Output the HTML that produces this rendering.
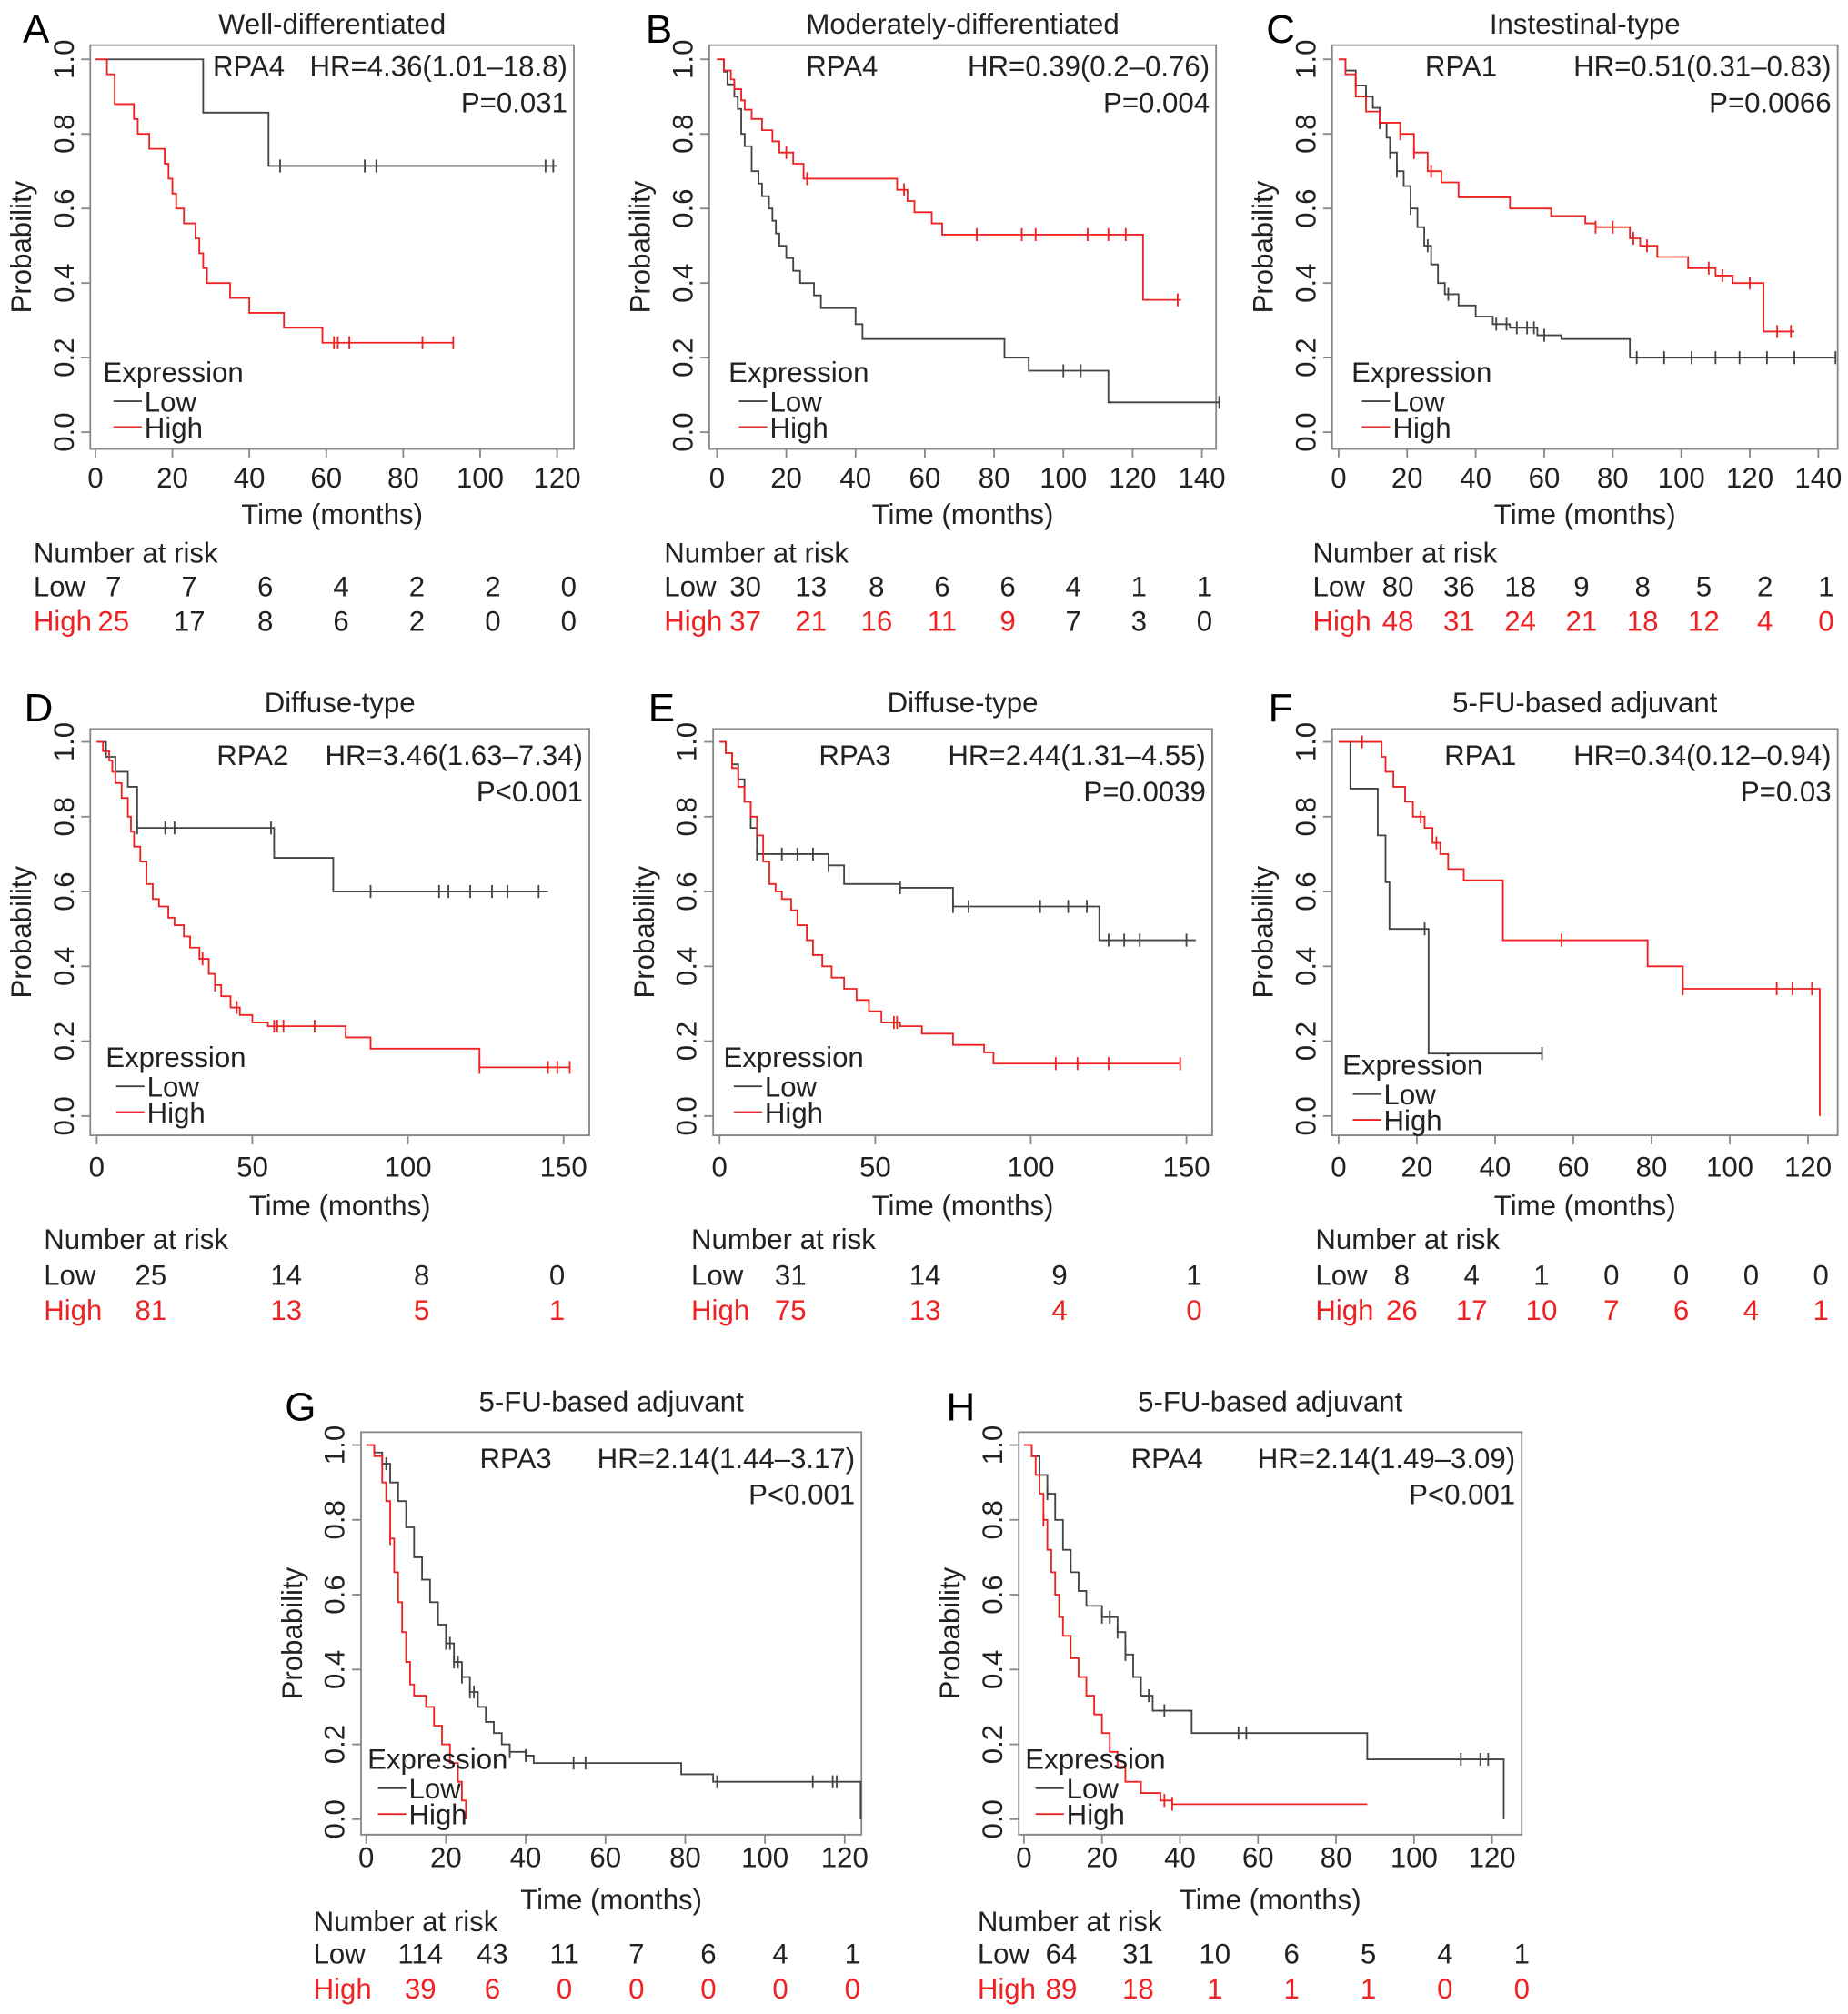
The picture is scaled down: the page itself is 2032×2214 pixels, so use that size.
<!DOCTYPE html>
<html><head><meta charset="utf-8">
<style>
html,body{margin:0;padding:0;background:#fff;}
svg{display:block;font-family:"Liberation Sans",Arial,sans-serif;}
</style></head>
<body>
<svg id="fig" width="2032" height="2214" viewBox="0 0 1433 1561" preserveAspectRatio="none" xmlns="http://www.w3.org/2000/svg"></svg>
<script>
// ---- data (time points of drops, survival after each drop, end time, censor times) ----
const A_lowT=[28,45]; const A_lowS=[0.857,0.714]; const A_lowEnd=120; const A_lowC=[48,70,73,117,119];
const A_highT=[3,5,10,11,14,18,19,20,21,23,26,27,28,29,35,40,49,59]; const A_highS=[0.96,0.88,0.84,0.8,0.76,0.72,0.68,0.64,0.6,0.56,0.52,0.48,0.44,0.4,0.36,0.32,0.28,0.24]; const A_highEnd=93; const A_highC=[62,63,66,85,93];
const B_lowT=[2,3,5,6,7,8,10,12,13,15,16,17,18,20,22,24,28,30,40,42,83,90,113]; const B_lowS=[0.967,0.933,0.9,0.867,0.8,0.767,0.7,0.667,0.633,0.6,0.567,0.533,0.5,0.467,0.433,0.4,0.367,0.333,0.29,0.25,0.2,0.165,0.08]; const B_lowEnd=145; const B_lowC=[100,105,145];
const B_highT=[2,4,5,7,8,10,13,16,18,22,25,52,55,57,62,65,123]; const B_highS=[0.97,0.946,0.92,0.89,0.865,0.84,0.81,0.78,0.75,0.72,0.68,0.65,0.62,0.59,0.56,0.53,0.355]; const B_highEnd=134; const B_highC=[20,26,54,75,88,92,107,113,118,133];
const C_lowT=[2,5,8,10,12,14,15,17,19,21,23,25,27,29,31,35,40,45,50,58,65,85]; const C_lowS=[0.97,0.93,0.9,0.87,0.83,0.79,0.75,0.7,0.66,0.6,0.55,0.5,0.45,0.4,0.37,0.34,0.31,0.29,0.28,0.26,0.25,0.2]; const C_lowEnd=145; const C_lowC=[5,8,12,15,17,21,26,32,46,49,52,55,57,60,87,95,103,110,117,125,133,145];
const C_highT=[2,5,8,12,18,22,26,30,35,50,62,72,75,85,88,93,102,110,115,124]; const C_highS=[0.96,0.9,0.86,0.83,0.8,0.75,0.7,0.67,0.63,0.6,0.58,0.56,0.55,0.52,0.5,0.47,0.44,0.42,0.4,0.27]; const C_highEnd=133; const C_highC=[18,22,27,75,80,86,90,108,112,120,128,132];
const D_lowT=[3,6,10,13,57,76]; const D_lowS=[0.96,0.92,0.88,0.77,0.69,0.6]; const D_lowEnd=145; const D_lowC=[13,22,25,56,88,110,113,120,127,132,142];
const D_highT=[2,4,5,6,8,10,11,12,14,16,18,20,23,25,28,30,33,36,38,40,43,46,50,55,80,88,123]; const D_highS=[0.975,0.95,0.92,0.89,0.85,0.8,0.76,0.72,0.68,0.62,0.58,0.56,0.53,0.51,0.48,0.45,0.42,0.38,0.35,0.32,0.29,0.27,0.25,0.24,0.21,0.18,0.13]; const D_highEnd=152; const D_highC=[34,38,45,57,58,60,70,123,145,148,152];
const E_lowT=[2,4,6,8,10,12,35,40,58,75,122]; const E_lowS=[0.97,0.94,0.9,0.84,0.77,0.7,0.67,0.62,0.61,0.56,0.47]; const E_lowEnd=153; const E_lowC=[12,20,25,30,35,58,75,80,103,112,118,125,130,135,150];
const E_highT=[2,4,6,8,10,12,14,16,18,20,23,25,28,30,33,36,40,44,48,52,58,65,75,85,88]; const E_highS=[0.97,0.93,0.88,0.84,0.8,0.75,0.68,0.62,0.6,0.58,0.55,0.51,0.47,0.43,0.4,0.37,0.34,0.31,0.28,0.25,0.24,0.22,0.19,0.17,0.14]; const E_highEnd=148; const E_highC=[56,57,108,115,125,148];
const F_lowT=[3,10,12,13,23]; const F_lowS=[0.875,0.75,0.625,0.5,0.167]; const F_lowEnd=52; const F_lowC=[22,52];
const F_highT=[11,12,14,17,19,22,24,26,28,32,42,79,88,123]; const F_highS=[0.96,0.92,0.88,0.84,0.8,0.77,0.73,0.7,0.66,0.63,0.47,0.4,0.34,0.0]; const F_highEnd=123; const F_highC=[6,21,25,57,88,112,116,121];
const G_lowT=[2,4,6,8,10,12,14,16,18,20,22,24,26,28,30,32,34,36,40,42,79,87,124]; const G_lowS=[0.98,0.95,0.9,0.85,0.78,0.7,0.64,0.58,0.52,0.47,0.42,0.38,0.34,0.3,0.26,0.23,0.2,0.18,0.17,0.15,0.12,0.1,0.0]; const G_lowEnd=124; const G_lowC=[5,20,21,22,23,24,26,27,36,40,52,55,88,112,117,118];
const G_highT=[2,4,5,6,7,8,9,10,11,12,15,17,19,21,23,24,25]; const G_highS=[0.97,0.9,0.85,0.75,0.66,0.58,0.5,0.42,0.36,0.33,0.3,0.25,0.2,0.15,0.1,0.05,0.0]; const G_highEnd=25; const G_highC=[6];
const H_lowT=[2,4,6,8,10,12,14,16,20,24,26,28,30,33,43,88,123]; const H_lowS=[0.97,0.92,0.87,0.8,0.72,0.66,0.61,0.57,0.54,0.5,0.44,0.38,0.33,0.29,0.23,0.16,0.0]; const H_lowEnd=123; const H_lowC=[6,20,22,24,26,32,36,55,57,112,117,119];
const H_highT=[2,3,4,5,6,7,8,9,10,12,14,16,18,20,22,24,26,30,35,38]; const H_highS=[0.97,0.92,0.87,0.8,0.72,0.66,0.6,0.54,0.49,0.43,0.38,0.33,0.28,0.23,0.18,0.14,0.1,0.07,0.05,0.04]; const H_highEnd=88; const H_highC=[5,36,38];
// risk tables
const A_riskLow=[7,7,6,4,2,2,0]; const A_riskHigh=[25,17,8,6,2,0,0];
const B_riskLow=[30,13,8,6,6,4,1,1]; const B_riskHigh=[37,21,16,11,9,7,3,0];
const C_riskLow=[80,36,18,9,8,5,2,1]; const C_riskHigh=[48,31,24,21,18,12,4,0];
const D_riskLow=[25,14,8,0]; const D_riskHigh=[81,13,5,1];
const E_riskLow=[31,14,9,1]; const E_riskHigh=[75,13,4,0];
const F_riskLow=[8,4,1,0,0,0,0]; const F_riskHigh=[26,17,10,7,6,4,1];
const G_riskLow=[114,43,11,7,6,4,1]; const G_riskHigh=[39,6,0,0,0,0,0];
const H_riskLow=[64,31,10,6,5,4,1]; const H_riskHigh=[89,18,1,1,1,0,0];
const RED=[
 [true,false,false,false,false,false,false],
 [true,true,true,true,true,false,false,false],
 [true,true,true,true,true,true,true,true],
 [true,true,true,true],[true,true,true,true],
 [true,true,true,true,true,true,true],
 [true,true,true,true,true,true,true],
 [true,true,true,true,true,true,true]];
const DATA={
 A:{lowT:A_lowT,lowS:A_lowS,lowEnd:A_lowEnd,lowC:A_lowC,highT:A_highT,highS:A_highS,highEnd:A_highEnd,highC:A_highC,rl:A_riskLow,rh:A_riskHigh},
 B:{lowT:B_lowT,lowS:B_lowS,lowEnd:B_lowEnd,lowC:B_lowC,highT:B_highT,highS:B_highS,highEnd:B_highEnd,highC:B_highC,rl:B_riskLow,rh:B_riskHigh},
 C:{lowT:C_lowT,lowS:C_lowS,lowEnd:C_lowEnd,lowC:C_lowC,highT:C_highT,highS:C_highS,highEnd:C_highEnd,highC:C_highC,rl:C_riskLow,rh:C_riskHigh},
 D:{lowT:D_lowT,lowS:D_lowS,lowEnd:D_lowEnd,lowC:D_lowC,highT:D_highT,highS:D_highS,highEnd:D_highEnd,highC:D_highC,rl:D_riskLow,rh:D_riskHigh},
 E:{lowT:E_lowT,lowS:E_lowS,lowEnd:E_lowEnd,lowC:E_lowC,highT:E_highT,highS:E_highS,highEnd:E_highEnd,highC:E_highC,rl:E_riskLow,rh:E_riskHigh},
 F:{lowT:F_lowT,lowS:F_lowS,lowEnd:F_lowEnd,lowC:F_lowC,highT:F_highT,highS:F_highS,highEnd:F_highEnd,highC:F_highC,rl:F_riskLow,rh:F_riskHigh},
 G:{lowT:G_lowT,lowS:G_lowS,lowEnd:G_lowEnd,lowC:G_lowC,highT:G_highT,highS:G_highS,highEnd:G_highEnd,highC:G_highC,rl:G_riskLow,rh:G_riskHigh},
 H:{lowT:H_lowT,lowS:H_lowS,lowEnd:H_lowEnd,lowC:H_lowC,highT:H_highT,highS:H_highS,highEnd:H_highEnd,highC:H_highC,rl:H_riskLow,rh:H_riskHigh}
};
// ---- layout ----
const P=[
 {id:'A',title:'Well-differentiated',gene:'RPA4',hr:'HR=4.36(1.01\u201318.8)',p:'P=0.031',bx0:70,bx1:445,by0:35,by1:348,x0:74,x1:432,xmax:120,step:20,y1:46,y0:335,lx:28,ly:22,geneX:165,hrY:51,pY:79,legX:80,legY:288,off:[22,50,80,106,133],rowX:26,rf:88,rlast:441},
 {id:'B',title:'Moderately-differentiated',gene:'RPA4',hr:'HR=0.39(0.2\u20130.76)',p:'P=0.004',bx0:550,bx1:943,by0:35,by1:348,x0:556,x1:932,xmax:140,step:20,y1:46,y0:335,lx:511,ly:22,geneX:625,hrY:51,pY:79,legX:565,legY:288,off:[22,50,80,106,133],rowX:515,rf:578,rlast:934},
 {id:'C',title:'Instestinal-type',gene:'RPA1',hr:'HR=0.51(0.31\u20130.83)',p:'P=0.0066',bx0:1033,bx1:1425,by0:35,by1:348,x0:1038,x1:1410,xmax:140,step:20,y1:46,y0:335,lx:993,ly:22,geneX:1105,hrY:51,pY:79,legX:1048,legY:288,off:[22,50,80,106,133],rowX:1018,rf:1084,rlast:1416},
 {id:'D',title:'Diffuse-type',gene:'RPA2',hr:'HR=3.46(1.63\u20137.34)',p:'P<0.001',bx0:70,bx1:457,by0:565,by1:880,x0:75,x1:437,xmax:150,step:50,y1:575,y0:865,lx:30,ly:548,geneX:168,hrY:585,pY:613,legX:82,legY:819,off:[24,54,80,108,135],rowX:34,rf:117,rlast:432},
 {id:'E',title:'Diffuse-type',gene:'RPA3',hr:'HR=2.44(1.31\u20134.55)',p:'P=0.0039',bx0:553,bx1:940,by0:565,by1:880,x0:558,x1:920,xmax:150,step:50,y1:575,y0:865,lx:513,ly:548,geneX:635,hrY:585,pY:613,legX:561,legY:819,off:[24,54,80,108,135],rowX:536,rf:613,rlast:926},
 {id:'F',title:'5-FU-based adjuvant',gene:'RPA1',hr:'HR=0.34(0.12\u20130.94)',p:'P=0.03',bx0:1033,bx1:1425,by0:565,by1:880,x0:1038,x1:1402,xmax:120,step:20,y1:575,y0:865,lx:993,ly:548,geneX:1120,hrY:585,pY:613,legX:1041,legY:825,off:[24,54,80,108,135],rowX:1020,rf:1087,rlast:1412},
 {id:'G',title:'5-FU-based adjuvant',gene:'RPA3',hr:'HR=2.14(1.44\u20133.17)',p:'P<0.001',bx0:280,bx1:668,by0:1110,by1:1422,x0:284,x1:655,xmax:120,step:20,y1:1120,y0:1410,lx:233,ly:1090,geneX:372,hrY:1130,pY:1158,legX:285,legY:1363,off:[17,50,67,92,119],rowX:243,rf:326,rlast:661},
 {id:'H',title:'5-FU-based adjuvant',gene:'RPA4',hr:'HR=2.14(1.49\u20133.09)',p:'P<0.001',bx0:790,bx1:1180,by0:1110,by1:1422,x0:794,x1:1157,xmax:120,step:20,y1:1120,y0:1410,lx:745,ly:1090,geneX:877,hrY:1130,pY:1158,legX:795,legY:1363,off:[17,50,67,92,119],rowX:758,rf:823,rlast:1180}
];
const FS=22;
const NS='http://www.w3.org/2000/svg';
const svg=document.getElementById('fig');
function mk(tag,attrs,parent,txt){const e=document.createElementNS(NS,tag);for(const k in attrs)e.setAttribute(k,attrs[k]);if(txt!==undefined)e.textContent=txt;(parent||svg).appendChild(e);return e;}
function survAt(T,S,t){let s=1;for(let i=0;i<T.length;i++){if(T[i]<=t)s=S[i];}return s;}
P.forEach((p,pi)=>{
 const d=DATA[p.id];
 const g=mk('g',{});
 
 
 const sx=t=>p.x0+(p.x1-p.x0)*t/p.xmax;
 const sy=v=>p.y0+(p.y1-p.y0)*v;
 const lt=mk('text',{x:p.lx,y:p.ly+11,'font-size':31,'text-anchor':'middle',fill:'#000'},g,p.id);
 
 const tt=mk('text',{x:(p.bx0+p.bx1)/2,y:p.ly+4,'font-size':FS,'text-anchor':'middle',fill:'#222'},g,p.title);
 
 const box=mk('rect',{x:p.bx0,y:p.by0,width:p.bx1-p.bx0,height:p.by1-p.by0,fill:'none',stroke:'#888','stroke-width':1.3},g);
 
 for(let t=0;t<=p.xmax;t+=p.step){
  const x=sx(t);
  mk('line',{x1:x,x2:x,y1:p.by1,y2:p.by1+7,stroke:'#888','stroke-width':1.3},g);
  const tl=mk('text',{x:x,y:p.by1+p.off[0]+8,'font-size':FS,'text-anchor':'middle',fill:'#222'},g,String(t));
  
 }
 mk('line',{x1:sx(0),x2:sx(p.xmax),y1:p.by1,y2:p.by1,stroke:'#888','stroke-width':1.3},g);
 const xt=mk('text',{x:(p.bx0+p.bx1)/2,y:p.by1+p.off[1]+8,'font-size':FS,'text-anchor':'middle',fill:'#222'},g,'Time (months)');
 
 for(let i=0;i<=5;i++){
  const v=i/5,y=sy(v);
  mk('line',{x1:p.bx0,x2:p.bx0-7,y1:y,y2:y,stroke:'#888','stroke-width':1.3},g);
  const yl=mk('text',{x:0,y:0,'font-size':FS,'text-anchor':'middle',fill:'#222',transform:`translate(${p.bx0-13},${y}) rotate(-90)`},g,v.toFixed(1));
  
 }
 const yt=mk('text',{x:0,y:0,'font-size':FS,'text-anchor':'middle',fill:'#222',transform:`translate(${p.bx0-46},${(p.by0+p.by1)/2}) rotate(-90)`},g,'Probability');
 
 const gn=mk('text',{x:p.geneX,y:p.hrY+8,'font-size':FS,fill:'#222'},g,p.gene);
 
 const hr=mk('text',{x:p.bx1-5,y:p.hrY+8,'font-size':FS,'text-anchor':'end',fill:'#222'},g,p.hr);
 
 const pv=mk('text',{x:p.bx1-5,y:p.pY+8,'font-size':FS,'text-anchor':'end',fill:'#222'},g,p.p);
 
 [['low','#444'],['high','#ee2222']].forEach(([k,col])=>{
  const T=d[k+'T'],S=d[k+'S'],end=d[k+'End'],C=d[k+'C'];
  let path=`M${sx(0)},${sy(1)}`;
  for(let i=0;i<T.length;i++){path+=` H${sx(T[i])} V${sy(S[i])}`;}
  path+=` H${sx(end)}`;
  const c=mk('path',{d:path,fill:'none',stroke:col,'stroke-width':1.3},g);
  
  C.forEach(t=>{
   const x=sx(t),y=sy(survAt(T,S,t));
   const m=mk('line',{x1:x,x2:x,y1:y-5,y2:y+5,stroke:col,'stroke-width':1.3},g);
   
  });
 });
 const lg=mk('g',{},g);
 
 mk('text',{x:p.legX,y:p.legY+8,'font-size':FS,fill:'#222'},lg,'Expression');
 mk('line',{x1:p.legX+8,x2:p.legX+30,y1:p.legY+23,y2:p.legY+23,stroke:'#444','stroke-width':1.3},lg);
 const le1=mk('text',{x:p.legX+32,y:p.legY+31,'font-size':FS,fill:'#222'},lg,'Low');
 
 mk('line',{x1:p.legX+8,x2:p.legX+30,y1:p.legY+43,y2:p.legY+43,stroke:'#ee2222','stroke-width':1.3},lg);
 const le2=mk('text',{x:p.legX+32,y:p.legY+51,'font-size':FS,fill:'#222'},lg,'High');
 
 const rt=mk('g',{},g);
 
 mk('text',{x:p.rowX,y:p.by1+p.off[2]+8,'font-size':FS,fill:'#222'},rt,'Number at risk');
 mk('text',{x:p.rowX,y:p.by1+p.off[3]+8,'font-size':FS,fill:'#222'},rt,'Low');
 mk('text',{x:p.rowX,y:p.by1+p.off[4]+8,'font-size':FS,fill:'#ee2222'},rt,'High');
 const n=d.rl.length,step=(p.rlast-p.rf)/(n-1);
 d.rl.forEach((v,i)=>{mk('text',{x:p.rf+i*step,y:p.by1+p.off[3]+8,'font-size':FS,'text-anchor':'middle',fill:'#222'},rt,String(v));});
 d.rh.forEach((v,i)=>{mk('text',{x:p.rf+i*step,y:p.by1+p.off[4]+8,'font-size':FS,'text-anchor':'middle',fill:RED[pi][i]?'#ee2222':'#222'},rt,String(v));});
});
</script>
</body></html>
